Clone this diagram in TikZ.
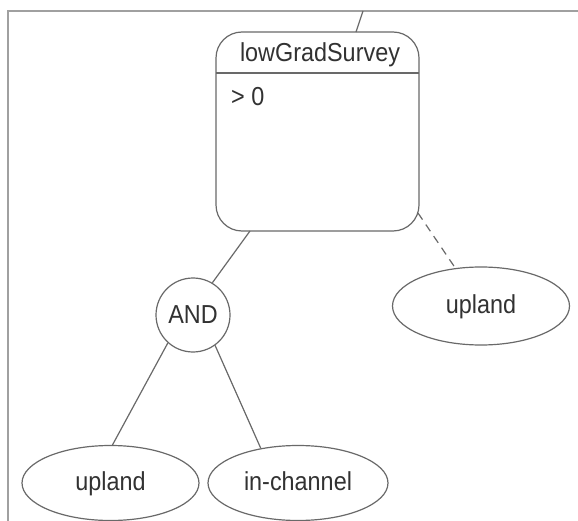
\documentclass[tikz,border=0pt]{standalone}
\usepackage{fontspec}
\setmainfont{Liberation Sans}[FakeStretch=0.9]
\usetikzlibrary{shapes.geometric}
\definecolor{edgegrey}{RGB}{105,105,105}
\definecolor{framegrey}{RGB}{160,160,160}
\definecolor{inkgrey}{RGB}{50,50,50}
\begin{document}
\begin{tikzpicture}[x=1pt,y=-1pt,
  every node/.style={text=inkgrey,font=\fontsize{26}{30}\selectfont},
  link/.style={draw=edgegrey,line width=1.2pt},
  leaf/.style={ellipse,draw=edgegrey,line width=1.2pt,inner sep=0pt,
               text height=19pt,text depth=5pt,
               minimum width=177pt,minimum height=75pt},
  gate/.style={circle,draw=edgegrey,line width=1.2pt,inner sep=0pt,minimum size=74pt}]
\useasboundingbox (0,0) rectangle (578,521);
\fill[white] (0,0) rectangle (578,521);
% panel frame
\draw[framegrey,line width=2pt] (578,11) -- (8,11) -- (8,521);
% test node: rounded box with a header line
\draw[edgegrey,line width=1.2pt,rounded corners=26pt] (216,32) rectangle (419,231);
\draw[edgegrey,line width=1.2pt] (216,73) -- (419,73);
\node[inner sep=0pt] (title) at (320,55) {lowGradSurvey};
\node[inner sep=0pt,anchor=west] (cond) at (231,97) {> 0};
\coordinate (boxtop) at (356,32);
\coordinate (boxbl) at (250,231);
\coordinate (boxbr) at (418,213);
\coordinate (parent) at (363,11);
% children
\node[gate] (and) at (193,315) {AND};
\node[leaf,minimum height=78pt] (up1) at (481,306) {upland};
\node[leaf] (up2) at (110.5,483) {upland};
\node[leaf,minimum width=180pt] (inch) at (298,483) {in-channel};
% connectors
\draw[link] (parent) -- (boxtop);
\draw[link] (boxbl) -- (and.59);
\draw[link,dash pattern=on 8pt off 6pt] (boxbr) -- (up1);
\draw[link] (and.228) -- ([xshift=2pt]up2.north);
\draw[link] (and.306) -- (inch.137);
\end{tikzpicture}
\end{document}
